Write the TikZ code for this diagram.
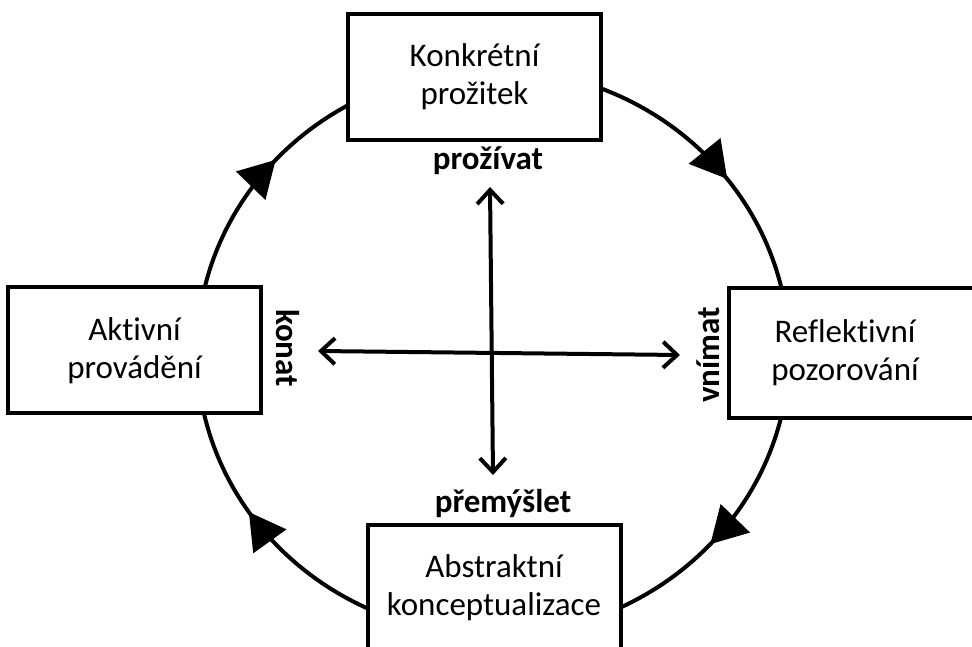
\documentclass[tikz,border=0pt]{standalone}
\usepackage{fontspec}
\setmainfont[Ligatures=NoCommon]{Carlito}
\usepackage{tikz}
\usetikzlibrary{arrows.meta, decorations.markings}

\begin{document}
\begin{tikzpicture}[x=1pt, y=1pt, font=\fontsize{33}{38}\selectfont,
  box/.style={rectangle, draw, fill=white, line width=4pt, minimum width=253pt, minimum height=126pt, align=center, inner sep=0pt},
  verb/.style={font=\fontsize{33}{38}\selectfont\bfseries, inner sep=0pt},
  axis/.style={line width=4pt, {Straight Barb[length=14pt,width=26pt]}-{Straight Barb[length=14pt,width=26pt]}},
  flow/.style={line width=4pt, postaction=decorate}]
\useasboundingbox (0,0) rectangle (972,646);
\coordinate (mid) at (493,294);
\draw[flow, decoration={markings,
  mark=at position 0.147 with {\arrow{Triangle[length=36pt,width=40pt]}},
  mark=at position 0.367 with {\arrow{Triangle[length=36pt,width=40pt]}},
  mark=at position 0.656 with {\arrow{Triangle[length=36pt,width=40pt]}},
  mark=at position 0.867 with {\arrow{Triangle[length=36pt,width=40pt]}}}]
  ([yshift=283pt]mid) arc[start angle=90, end angle=-270, x radius=296pt, y radius=283pt];
\node[box] (konk)  at (474.5,569)  {Konkrétní\\prožitek};
\node[box] (akt)   at (134.5,295.5) {Aktivní\\provádění};
\node[box, draw=none, minimum width=228pt] (refl) at (845,293) {Reflektivní\\pozorování};
\draw[line width=4pt] (refl.north west) rectangle ([xshift=40pt]refl.south east);
\node[box] (abstr) at (494,58)     {Abstraktní\\konceptualizace};
\node[verb, anchor=base] (prozivat)  at (488,476) {prožívat};
\node[verb, anchor=base] (premyslet) at (503,134) {přemýšlet};
\node[verb, rotate=-90]  (konat)     at (288,298) {konat};
\node[verb, rotate=90]   (vnimat)    at (708,291) {vnímat};
\coordinate (up)   at (490,459);
\coordinate (down) at (493,171);
\coordinate (west) at (318,295);
\coordinate (east) at (680,291);
\draw[axis] (down) -- (up);
\draw[axis] (west) -- (east);
\end{tikzpicture}
\end{document}
